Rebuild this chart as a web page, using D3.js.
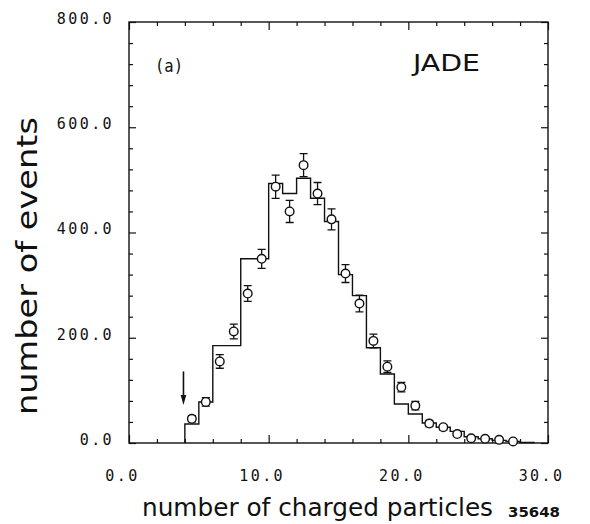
<!DOCTYPE html>
<html><head><meta charset="utf-8">
<script src="https://cdn.jsdelivr.net/npm/d3@7/dist/d3.min.js"></script>
<style>body{margin:0;background:#fff}svg{display:block}</style>
</head><body><svg id="c" width="590" height="524"></svg>
<script>
// ---- data ----
const binCenters = [4.5,5.5,6.5,7.5,8.5,9.5,10.5,11.5,12.5,13.5,14.5,15.5,16.5,17.5,18.5,19.5,20.5,21.5,22.5,23.5,24.5,25.5,26.5,27.5];
const dataValues = [46,78,155,212,284,350,487,440,528,474,425,322,265,194,145,106,71,37,30,17,9,8,6,3];
const dataErrors = [6,8,13,14,15,18,22,21,22,21,20,17,16,13,11,9,8,6,5,4,3,3,2,2];
const mcEdges = [4,5,6,8,10,11,12,13,14,15,16,17,18,19,20,21,22,23,24,25,26,27,28,29];
const mcValues = [36,78,185,350,493,474,503,465,421,320,280,181,131,74,55,38,30,22,12,8,5,3,1];
const xMajorTicks = [0,10,20,30];
const xMinorTicks = [2,4,6,8,12,14,16,18,22,24,26,28];
const yMajorTicks = [0,200,400,600,800];
const yMinorTicks = [40,80,120,160,240,280,320,360,440,480,520,560,640,680,720,760];
const arrowX = 3.9, arrowFrom = 136, arrowTo = 72;
const xTitle = "number of charged particles";
const yTitle = "number of events";
const panelLabel = "(a)";
const expLabel = "JADE";
const figNumber = "35648";

// ---- drawing ----
const svg = d3.select("#c");
const L = 129, R = 548, T = 22, B = 443;
const x = d3.scaleLinear().domain([0,30]).range([L,R]);
const y = d3.scaleLinear().domain([0,800]).range([B,T]);
const fmt = d3.format(".1f");
const ink = "#111";

// frame
svg.append("rect").attr("x",L).attr("y",T).attr("width",R-L).attr("height",B-T)
  .attr("fill","none").attr("stroke",ink).attr("stroke-width",1.4);

function styleAxis(g){ g.select(".domain").remove(); g.selectAll("line").attr("stroke",ink).attr("stroke-width",1.2); }

// bottom axis with labels
const gb = svg.append("g").attr("transform",`translate(0,${B})`)
  .call(d3.axisBottom(x).tickValues(xMajorTicks).tickSize(-8).tickSizeOuter(0).tickPadding(27).tickFormat(fmt));
styleAxis(gb);
gb.selectAll("text").attr("font-family","'DejaVu Sans Mono', monospace").attr("font-size",15)
  .attr("letter-spacing","2.4px").attr("fill",ink).attr("dx",-7);
svg.append("g").attr("transform",`translate(0,${B})`)
  .call(d3.axisBottom(x).tickValues(xMinorTicks).tickSize(-4).tickSizeOuter(0).tickFormat("")).call(styleAxis);
// top
svg.append("g").attr("transform",`translate(0,${T})`)
  .call(d3.axisTop(x).tickValues(xMajorTicks).tickSize(-8).tickSizeOuter(0).tickFormat("")).call(styleAxis);
svg.append("g").attr("transform",`translate(0,${T})`)
  .call(d3.axisTop(x).tickValues(xMinorTicks).tickSize(-4).tickSizeOuter(0).tickFormat("")).call(styleAxis);
// left with labels
const gl = svg.append("g").attr("transform",`translate(${L},0)`)
  .call(d3.axisLeft(y).tickValues(yMajorTicks).tickSize(-7).tickSizeOuter(0).tickPadding(15).tickFormat(fmt));
styleAxis(gl);
gl.selectAll("text").attr("font-family","'DejaVu Sans Mono', monospace").attr("font-size",15)
  .attr("letter-spacing","2.4px").attr("fill",ink).attr("y",-3.5);
svg.append("g").attr("transform",`translate(${L},0)`)
  .call(d3.axisLeft(y).tickValues(yMinorTicks).tickSize(-4).tickSizeOuter(0).tickFormat("")).call(styleAxis);
// right
svg.append("g").attr("transform",`translate(${R},0)`)
  .call(d3.axisRight(y).tickValues(yMajorTicks).tickSize(-7).tickSizeOuter(0).tickFormat("")).call(styleAxis);
svg.append("g").attr("transform",`translate(${R},0)`)
  .call(d3.axisRight(y).tickValues(yMinorTicks).tickSize(-4).tickSizeOuter(0).tickFormat("")).call(styleAxis);

// MC histogram
const histPts = [[mcEdges[0],0]];
mcValues.forEach((v,i)=>histPts.push([mcEdges[i],v]));
histPts.push([mcEdges[mcEdges.length-1], mcValues[mcValues.length-1]]);
histPts.push([mcEdges[mcEdges.length-1], 0]);
svg.append("path").datum(histPts)
  .attr("d", d3.line().x(d=>x(d[0])).y(d=>y(d[1])).curve(d3.curveStepAfter))
  .attr("fill","none").attr("stroke",ink).attr("stroke-width",1.4);

// data points
const pts = binCenters.map((c,i)=>({c, v:dataValues[i], e:dataErrors[i]}));
const gp = svg.append("g");
const cap = 4;
gp.selectAll("path.err").data(pts).join("path").attr("class","err")
  .attr("d", d=>{const xc=x(d.c), y1=y(d.v+d.e), y0=y(d.v-d.e);
    return `M${xc},${y1}V${y0}M${xc-cap},${y1}H${xc+cap}M${xc-cap},${y0}H${xc+cap}`;})
  .attr("fill","none").attr("stroke",ink).attr("stroke-width",1.3);
gp.selectAll("circle").data(pts).join("circle")
  .attr("cx",d=>x(d.c)).attr("cy",d=>y(d.v)).attr("r",4.3)
  .attr("fill","#fff").attr("stroke",ink).attr("stroke-width",1.4);

// arrow
const ax = x(arrowX), ay0 = y(arrowFrom), ay1 = y(arrowTo);
svg.append("line").attr("x1",ax).attr("x2",ax).attr("y1",ay0).attr("y2",ay1-8)
  .attr("stroke",ink).attr("stroke-width",1.6);
svg.append("path").attr("d",`M${ax-2.8},${ay1-10}L${ax+2.8},${ay1-10}L${ax},${ay1}Z`).attr("fill",ink);

// texts
svg.append("text").attr("x",155).attr("y",72).text(panelLabel)
  .attr("font-family","'DejaVu Sans Mono', monospace").attr("font-size",17).attr("fill",ink)
  .attr("textLength",28).attr("lengthAdjust","spacingAndGlyphs");
svg.append("text").attr("x",413).attr("y",71).text(expLabel)
  .attr("font-family","'DejaVu Sans', sans-serif").attr("font-size",23).attr("fill",ink)
  .attr("textLength",67).attr("lengthAdjust","spacingAndGlyphs");
svg.append("text").attr("x",142).attr("y",516).text(xTitle)
  .attr("font-family","'DejaVu Sans', sans-serif").attr("font-size",24).attr("fill",ink)
  .attr("textLength",351).attr("lengthAdjust","spacingAndGlyphs");
svg.append("text").attr("transform","translate(37,266) rotate(-90)").attr("text-anchor","middle").text(yTitle)
  .attr("font-family","'DejaVu Sans', sans-serif").attr("font-size",28).attr("fill",ink)
  .attr("textLength",298).attr("lengthAdjust","spacingAndGlyphs");
svg.append("text").attr("x",508).attr("y",517).text(figNumber)
  .attr("font-family","'DejaVu Sans', sans-serif").attr("font-size",14).attr("font-weight","bold").attr("fill",ink)
  .attr("textLength",52).attr("lengthAdjust","spacingAndGlyphs");
</script>
</body></html>
